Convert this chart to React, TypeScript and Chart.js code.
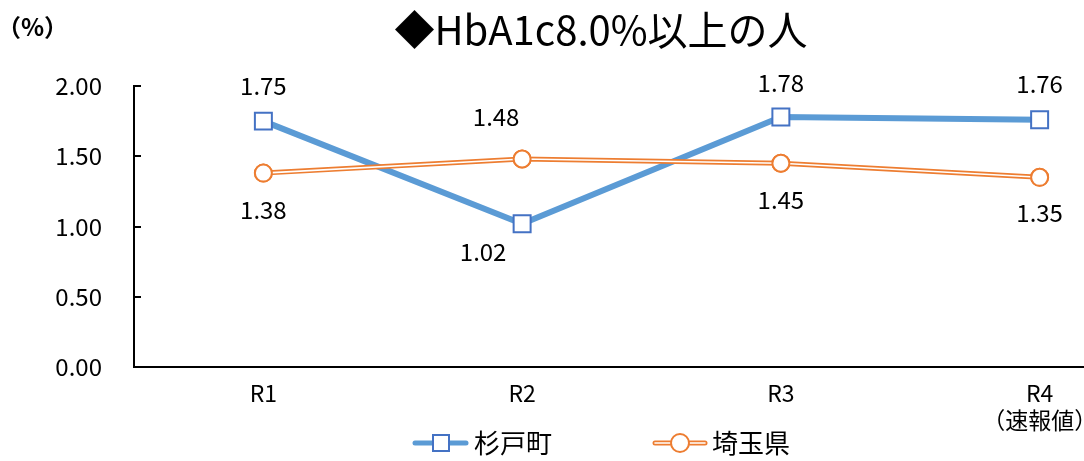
import React, { useEffect, useRef } from "react";
import { Chart, registerables } from "chart.js";

Chart.register(...registerables);

// Fiscal-year categories (the last one is a preliminary figure)
const categories: (string | string[])[] = ["R1", "R2", "R3", ["R4", "（速報値）"]];

// Share of people with HbA1c of 8.0% or more (%)
const sugitoLabel = "杉戸町";
const sugitoValues = [1.75, 1.02, 1.78, 1.76];

const saitamaLabel = "埼玉県";
const saitamaValues = [1.38, 1.48, 1.45, 1.35];

const titleText = "◆HbA1c8.0%以上の人";
const unitText = "（%）";

// Value-label placement per point (pixel offsets from the marker)
const sugitoLabelOffsets = [
  { dx: 0, dy: -35 },
  { dx: -39, dy: 28 },
  { dx: 0, dy: -34 },
  { dx: 0, dy: -36 },
];
const saitamaLabelOffsets = [
  { dx: 0, dy: 37 },
  { dx: -26, dy: -42 },
  { dx: 0, dy: 37 },
  { dx: 0, dy: 36 },
];

const FONT = '"Noto Sans CJK JP", "Noto Sans", sans-serif';
const BLUE_LINE = "#5B9BD5";
const BLUE_MARK = "#4472C4";
const ORANGE = "#ED7D31";

const decorPlugin = {
  id: "decor",
  afterDatasetDraw(chart: any, args: any) {
    // Orange series uses a double (compound) line: white stripe through the middle
    if (args.index !== 1) return;
    const meta = args.meta;
    const ctx = chart.ctx;
    const pts = meta.data;
    ctx.save();
    ctx.strokeStyle = "#ffffff";
    ctx.lineWidth = 1.6;
    ctx.lineJoin = "round";
    ctx.beginPath();
    pts.forEach((p: any, i: number) => (i === 0 ? ctx.moveTo(p.x, p.y) : ctx.lineTo(p.x, p.y)));
    ctx.stroke();
    ctx.restore();
    pts.forEach((p: any) => p.draw(ctx, chart.chartArea));
  },
  afterDraw(chart: any) {
    const ctx = chart.ctx;
    const y = chart.scales.y;
    const area = chart.chartArea;

    // inward tick marks on the value axis
    ctx.save();
    ctx.strokeStyle = "#000";
    ctx.lineWidth = 2;
    y.ticks.forEach((t: any) => {
      const py = Math.round(y.getPixelForValue(t.value));
      ctx.beginPath();
      ctx.moveTo(area.left, py);
      ctx.lineTo(area.left + 7, py);
      ctx.stroke();
    });
    ctx.restore();

    // value labels
    const offsets = [sugitoLabelOffsets, saitamaLabelOffsets];
    ctx.save();
    ctx.font = `24px ${FONT}`;
    ctx.fillStyle = "#000";
    ctx.textAlign = "center";
    ctx.textBaseline = "middle";
    chart.data.datasets.forEach((ds: any, di: number) => {
      const meta = chart.getDatasetMeta(di);
      meta.data.forEach((p: any, i: number) => {
        const o = offsets[di][i];
        ctx.fillText(Number(ds.data[i]).toFixed(2), p.x + o.dx, p.y + o.dy);
      });
    });
    ctx.restore();

    // unit
    ctx.save();
    ctx.font = `bold 24px ${FONT}`;
    ctx.fillStyle = "#000";
    ctx.textAlign = "left";
    ctx.textBaseline = "middle";
    ctx.fillText(unitText, -3, 27);
    ctx.restore();

    // legend: line + marker samples
    const ly = 443;
    const ds0 = chart.data.datasets[0];
    const ds1 = chart.data.datasets[1];
    ctx.save();
    ctx.lineCap = "round";
    ctx.strokeStyle = BLUE_LINE;
    ctx.lineWidth = 5;
    ctx.beginPath();
    ctx.moveTo(415, ly);
    ctx.lineTo(466, ly);
    ctx.stroke();
    ctx.fillStyle = "#fff";
    ctx.strokeStyle = BLUE_MARK;
    ctx.lineWidth = 2;
    ctx.fillRect(433, ly - 8, 16, 16);
    ctx.strokeRect(433, ly - 8, 16, 16);

    ctx.strokeStyle = ORANGE;
    ctx.lineWidth = 5;
    ctx.beginPath();
    ctx.moveTo(655, ly);
    ctx.lineTo(705, ly);
    ctx.stroke();
    ctx.strokeStyle = "#fff";
    ctx.lineWidth = 1.6;
    ctx.beginPath();
    ctx.moveTo(655, ly);
    ctx.lineTo(705, ly);
    ctx.stroke();
    ctx.fillStyle = "#fff";
    ctx.strokeStyle = ORANGE;
    ctx.lineWidth = 2;
    ctx.beginPath();
    ctx.arc(680, ly, 9, 0, Math.PI * 2);
    ctx.fill();
    ctx.stroke();

    ctx.font = `26px ${FONT}`;
    ctx.fillStyle = "#000";
    ctx.textAlign = "left";
    ctx.textBaseline = "middle";
    ctx.fillText(ds0.label, 474, ly);
    ctx.fillText(ds1.label, 712, ly);
    ctx.restore();
  },
};

export default function App() {
  const canvasRef = useRef<HTMLCanvasElement | null>(null);

  useEffect(() => {
    if (!canvasRef.current) return;
    Chart.defaults.font.family = FONT;
    Chart.defaults.color = "#000";
    const chart = new Chart(canvasRef.current, {
      type: "line",
      data: {
        labels: categories,
        datasets: [
          {
            label: sugitoLabel,
            data: sugitoValues,
            borderColor: BLUE_LINE,
            borderWidth: 6,
            pointStyle: "rect",
            pointRadius: 12,
            pointBorderWidth: 2,
            pointBorderColor: BLUE_MARK,
            pointBackgroundColor: "#fff",
            order: 2,
          },
          {
            label: saitamaLabel,
            data: saitamaValues,
            borderColor: ORANGE,
            borderWidth: 5,
            pointStyle: "circle",
            pointRadius: 8.5,
            pointBorderWidth: 2,
            pointBorderColor: ORANGE,
            pointBackgroundColor: "#fff",
            order: 1,
          },
        ],
      },
      options: {
        responsive: false,
        animation: false,
        devicePixelRatio: 1,
        layout: { padding: { left: 0, right: 0, top: 0, bottom: 0 } },
        plugins: {
          legend: { display: false },
          tooltip: { enabled: false },
          title: {
            display: true,
            text: titleText,
            color: "#000",
            font: { size: 40, weight: "normal", family: FONT, lineHeight: 1.2 },
            padding: { top: 6, bottom: 32 },
          },
        },
        scales: {
          x: {
            type: "category",
            offset: true,
            grid: { display: false, drawTicks: false },
            border: { display: true, color: "#000", width: 2 },
            ticks: {
              color: "#000",
              font: { size: 23, family: FONT, lineHeight: 1.17 },
              padding: 13,
              maxRotation: 0,
              autoSkip: false,
            },
            afterFit(scale: any) {
              scale.height = 94;
            },
          },
          y: {
            min: 0,
            max: 2,
            grid: { display: false, drawTicks: false },
            border: { display: true, color: "#000", width: 2 },
            ticks: {
              stepSize: 0.5,
              color: "#000",
              font: { size: 24, family: FONT },
              padding: 32,
              callback: (v: any) => Number(v).toFixed(2),
            },
            afterFit(scale: any) {
              scale.width = 134;
            },
          },
          yRight: {
            position: "right",
            display: true,
            grid: { display: false, drawTicks: false },
            border: { display: false },
            ticks: { display: false },
            afterFit(scale: any) {
              scale.width = 33;
            },
          },
        },
      },
      plugins: [decorPlugin],
    } as any);
    return () => chart.destroy();
  }, []);

  return (
    <div
      style={{
        position: "fixed",
        left: 0,
        top: 0,
        width: 1084,
        height: 461,
        overflow: "hidden",
        background: "#fff",
      }}
    >
      <canvas ref={canvasRef} width={1202} height={461} style={{ display: "block" }} />
    </div>
  );
}
